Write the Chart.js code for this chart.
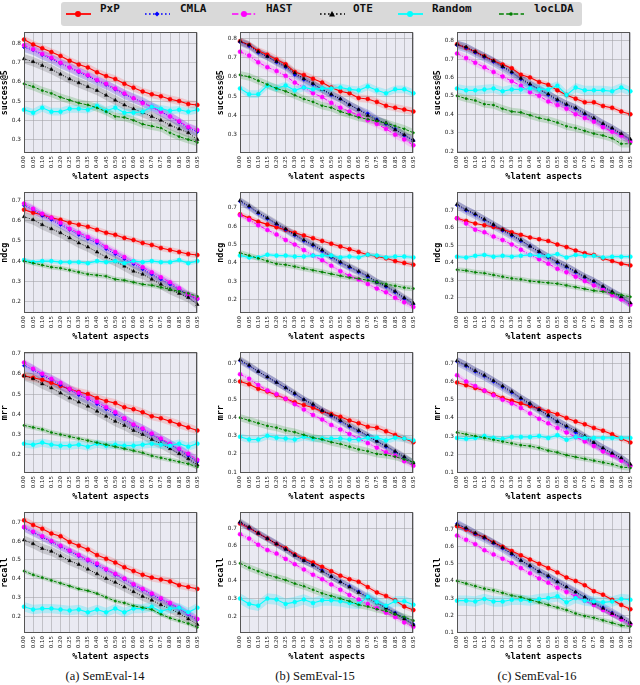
<!DOCTYPE html>
<html><head><meta charset="utf-8">
<script src="https://cdn.jsdelivr.net/npm/chart.js@4"></script>
<style>
body{margin:0;width:640px;height:685px;background:#fff;position:relative;overflow:hidden;font-family:'DejaVu Sans',sans-serif}
canvas{position:absolute}
#legend{position:absolute;left:61px;top:2px;width:521px;height:24px;background:#d9d9d9;border-radius:3px}
.sw{position:absolute;top:7px}
.lt{position:absolute;top:0;height:24px;line-height:24px;font:bold 11px 'DejaVu Sans Mono',monospace;color:#111}
.cap{position:absolute;top:669px;font:12.5px 'Liberation Serif',serif;transform:translateX(-50%);white-space:nowrap;color:#111}
</style></head><body>
<div id="legend"></div>
<div class="cap" style="left:105px">(a) SemEval-14</div>
<div class="cap" style="left:315px">(b) SemEval-15</div>
<div class="cap" style="left:537px">(c) SemEval-16</div>
<script>
const seriesNames = ['PxP','CMLA','HAST','OTE','Random','locLDA'];
const xLabels = ['0.00','0.05','0.10','0.15','0.20','0.25','0.30','0.35','0.40','0.45','0.50','0.55','0.60','0.65','0.70','0.75','0.80','0.85','0.90','0.95'];

// success@5
const succ14_PxP = [0.82,0.795,0.775,0.755,0.735,0.71,0.69,0.675,0.65,0.63,0.615,0.59,0.57,0.55,0.535,0.525,0.51,0.50,0.485,0.48];
const succ14_CMLA = [0.78,0.765,0.74,0.72,0.695,0.675,0.65,0.63,0.605,0.585,0.56,0.535,0.515,0.495,0.47,0.445,0.42,0.39,0.36,0.34];
const succ14_HAST = [0.79,0.77,0.745,0.725,0.70,0.675,0.655,0.635,0.61,0.59,0.565,0.54,0.515,0.49,0.47,0.445,0.42,0.395,0.365,0.35];
const succ14_OTE = [0.72,0.705,0.685,0.665,0.64,0.615,0.595,0.575,0.555,0.53,0.505,0.48,0.46,0.44,0.42,0.40,0.375,0.355,0.335,0.30];
const succ14_Random = [0.455,0.44,0.465,0.445,0.445,0.46,0.46,0.455,0.475,0.45,0.465,0.44,0.44,0.445,0.47,0.46,0.45,0.455,0.445,0.455];
const succ14_locLDA = [0.59,0.575,0.555,0.54,0.52,0.505,0.49,0.48,0.465,0.445,0.42,0.415,0.40,0.38,0.37,0.36,0.335,0.315,0.30,0.285];

const succ15_PxP = [0.785,0.765,0.735,0.715,0.69,0.665,0.625,0.61,0.59,0.57,0.545,0.525,0.515,0.49,0.485,0.47,0.45,0.44,0.43,0.42];
const succ15_CMLA = [0.78,0.76,0.725,0.705,0.675,0.65,0.61,0.585,0.56,0.535,0.505,0.485,0.455,0.43,0.41,0.38,0.355,0.33,0.295,0.27];
const succ15_HAST = [0.73,0.71,0.675,0.65,0.63,0.605,0.57,0.545,0.515,0.495,0.465,0.44,0.42,0.40,0.375,0.355,0.33,0.30,0.275,0.245];
const succ15_OTE = [0.785,0.765,0.73,0.705,0.68,0.655,0.62,0.59,0.565,0.535,0.51,0.485,0.455,0.43,0.40,0.375,0.36,0.325,0.30,0.27];
const succ15_Random = [0.54,0.51,0.51,0.555,0.54,0.555,0.53,0.545,0.535,0.54,0.54,0.545,0.535,0.53,0.55,0.53,0.515,0.535,0.535,0.515];
const succ15_locLDA = [0.61,0.60,0.58,0.56,0.54,0.525,0.505,0.485,0.47,0.45,0.44,0.42,0.405,0.39,0.38,0.37,0.36,0.345,0.33,0.31];

const succ16_PxP = [0.78,0.76,0.74,0.715,0.69,0.67,0.65,0.615,0.60,0.575,0.56,0.53,0.505,0.485,0.465,0.465,0.445,0.435,0.415,0.40];
const succ16_CMLA = [0.775,0.76,0.735,0.71,0.685,0.655,0.625,0.59,0.56,0.535,0.505,0.475,0.45,0.43,0.40,0.375,0.345,0.32,0.29,0.26];
const succ16_HAST = [0.73,0.705,0.68,0.655,0.63,0.605,0.58,0.555,0.52,0.50,0.47,0.45,0.43,0.40,0.38,0.36,0.33,0.305,0.285,0.25];
const succ16_OTE = [0.78,0.765,0.74,0.715,0.69,0.66,0.63,0.595,0.565,0.535,0.51,0.48,0.455,0.435,0.405,0.38,0.35,0.325,0.295,0.265];
const succ16_Random = [0.54,0.53,0.53,0.535,0.54,0.525,0.535,0.535,0.54,0.535,0.535,0.555,0.505,0.545,0.53,0.53,0.53,0.525,0.545,0.525];
const succ16_locLDA = [0.50,0.485,0.475,0.455,0.45,0.43,0.415,0.41,0.395,0.38,0.37,0.355,0.335,0.325,0.31,0.295,0.285,0.27,0.24,0.24];

// ndcg
const ndcg14_PxP = [0.655,0.64,0.63,0.615,0.605,0.59,0.58,0.57,0.555,0.54,0.53,0.515,0.505,0.49,0.48,0.465,0.455,0.445,0.435,0.43];
const ndcg14_CMLA = [0.675,0.655,0.625,0.605,0.58,0.555,0.53,0.51,0.49,0.46,0.435,0.41,0.385,0.36,0.335,0.31,0.285,0.26,0.23,0.21];
const ndcg14_HAST = [0.685,0.66,0.635,0.615,0.59,0.56,0.54,0.52,0.50,0.47,0.445,0.42,0.395,0.37,0.345,0.32,0.295,0.265,0.235,0.215];
const ndcg14_OTE = [0.62,0.605,0.58,0.56,0.54,0.515,0.49,0.47,0.445,0.42,0.40,0.375,0.35,0.335,0.31,0.285,0.26,0.24,0.22,0.185];
const ndcg14_Random = [0.405,0.395,0.40,0.40,0.395,0.395,0.395,0.39,0.40,0.395,0.40,0.39,0.40,0.395,0.40,0.395,0.395,0.405,0.39,0.40];
const ndcg14_locLDA = [0.40,0.39,0.38,0.37,0.365,0.355,0.345,0.335,0.33,0.325,0.31,0.305,0.295,0.285,0.28,0.27,0.26,0.25,0.24,0.225];

const ndcg15_PxP = [0.665,0.645,0.625,0.61,0.595,0.58,0.565,0.55,0.535,0.52,0.505,0.49,0.475,0.46,0.445,0.435,0.425,0.41,0.40,0.39];
const ndcg15_CMLA = [0.735,0.705,0.67,0.64,0.61,0.58,0.55,0.52,0.495,0.465,0.43,0.40,0.375,0.35,0.325,0.295,0.27,0.24,0.205,0.175];
const ndcg15_HAST = [0.66,0.635,0.605,0.58,0.555,0.525,0.50,0.47,0.44,0.415,0.385,0.355,0.33,0.31,0.285,0.26,0.24,0.21,0.185,0.16];
const ndcg15_OTE = [0.74,0.71,0.675,0.645,0.615,0.585,0.555,0.525,0.50,0.47,0.435,0.405,0.38,0.355,0.33,0.295,0.275,0.245,0.21,0.18];
const ndcg15_Random = [0.44,0.43,0.43,0.445,0.44,0.44,0.435,0.435,0.44,0.44,0.44,0.43,0.435,0.43,0.445,0.44,0.43,0.435,0.435,0.43];
const ndcg15_locLDA = [0.455,0.44,0.425,0.41,0.395,0.39,0.38,0.37,0.36,0.35,0.34,0.33,0.32,0.315,0.305,0.295,0.285,0.275,0.265,0.26];

const ndcg16_PxP = [0.655,0.64,0.625,0.615,0.605,0.59,0.575,0.56,0.545,0.535,0.525,0.505,0.49,0.47,0.455,0.445,0.425,0.41,0.395,0.385];
const ndcg16_CMLA = [0.73,0.70,0.675,0.645,0.615,0.585,0.555,0.525,0.495,0.46,0.43,0.40,0.375,0.345,0.315,0.29,0.26,0.23,0.20,0.165];
const ndcg16_HAST = [0.655,0.625,0.59,0.575,0.55,0.53,0.505,0.475,0.445,0.42,0.395,0.365,0.345,0.32,0.295,0.27,0.245,0.215,0.19,0.16];
const ndcg16_OTE = [0.735,0.705,0.68,0.65,0.62,0.59,0.56,0.53,0.495,0.465,0.435,0.405,0.38,0.35,0.32,0.295,0.265,0.235,0.205,0.17];
const ndcg16_Random = [0.435,0.43,0.44,0.445,0.435,0.44,0.435,0.44,0.445,0.44,0.44,0.45,0.43,0.445,0.44,0.44,0.43,0.435,0.435,0.435];
const ndcg16_locLDA = [0.36,0.355,0.345,0.34,0.33,0.32,0.31,0.305,0.295,0.29,0.285,0.28,0.27,0.26,0.25,0.24,0.235,0.225,0.215,0.205];

// mrr
const mrr14_PxP = [0.59,0.58,0.57,0.555,0.54,0.525,0.51,0.50,0.48,0.465,0.455,0.435,0.425,0.41,0.39,0.38,0.365,0.35,0.335,0.32];
const mrr14_CMLA = [0.64,0.62,0.59,0.57,0.545,0.52,0.495,0.475,0.45,0.425,0.40,0.375,0.345,0.325,0.30,0.275,0.25,0.225,0.195,0.165];
const mrr14_HAST = [0.655,0.625,0.60,0.575,0.555,0.525,0.505,0.48,0.46,0.435,0.41,0.38,0.35,0.33,0.305,0.28,0.255,0.23,0.205,0.175];
const mrr14_OTE = [0.59,0.575,0.55,0.53,0.505,0.48,0.46,0.44,0.415,0.39,0.365,0.345,0.32,0.30,0.275,0.255,0.23,0.205,0.18,0.15];
const mrr14_Random = [0.255,0.25,0.26,0.25,0.245,0.245,0.25,0.24,0.255,0.245,0.25,0.245,0.245,0.25,0.255,0.25,0.245,0.255,0.24,0.255];
const mrr14_locLDA = [0.345,0.335,0.325,0.31,0.30,0.29,0.28,0.27,0.26,0.25,0.24,0.23,0.22,0.21,0.195,0.185,0.175,0.165,0.155,0.14];

const mrr15_PxP = [0.60,0.585,0.56,0.545,0.525,0.505,0.485,0.47,0.455,0.435,0.42,0.405,0.385,0.37,0.35,0.345,0.325,0.305,0.285,0.265];
const mrr15_CMLA = [0.715,0.685,0.655,0.625,0.595,0.565,0.53,0.50,0.47,0.44,0.41,0.38,0.35,0.325,0.30,0.27,0.24,0.21,0.18,0.15];
const mrr15_HAST = [0.64,0.615,0.58,0.55,0.53,0.505,0.475,0.445,0.415,0.39,0.36,0.335,0.31,0.285,0.26,0.235,0.21,0.19,0.16,0.135];
const mrr15_OTE = [0.72,0.69,0.655,0.625,0.595,0.565,0.535,0.50,0.475,0.44,0.415,0.385,0.355,0.33,0.30,0.27,0.245,0.215,0.185,0.15];
const mrr15_Random = [0.295,0.28,0.28,0.30,0.29,0.285,0.28,0.295,0.285,0.285,0.285,0.285,0.28,0.28,0.29,0.29,0.275,0.29,0.285,0.275];
const mrr15_locLDA = [0.40,0.385,0.37,0.355,0.345,0.33,0.32,0.305,0.29,0.28,0.265,0.255,0.24,0.225,0.215,0.20,0.195,0.185,0.17,0.155];

const mrr16_PxP = [0.595,0.58,0.565,0.55,0.53,0.51,0.495,0.48,0.465,0.45,0.435,0.42,0.40,0.38,0.365,0.345,0.33,0.31,0.285,0.265];
const mrr16_CMLA = [0.71,0.685,0.655,0.63,0.60,0.57,0.54,0.505,0.475,0.445,0.41,0.38,0.35,0.32,0.29,0.26,0.23,0.205,0.175,0.14];
const mrr16_HAST = [0.635,0.60,0.575,0.55,0.525,0.50,0.48,0.455,0.425,0.395,0.37,0.345,0.32,0.295,0.27,0.245,0.215,0.195,0.165,0.135];
const mrr16_OTE = [0.715,0.69,0.66,0.635,0.605,0.575,0.545,0.51,0.48,0.445,0.415,0.38,0.355,0.33,0.30,0.265,0.235,0.205,0.18,0.145];
const mrr16_Random = [0.29,0.285,0.29,0.30,0.29,0.285,0.295,0.295,0.295,0.30,0.29,0.305,0.28,0.295,0.29,0.29,0.29,0.29,0.29,0.29];
const mrr16_locLDA = [0.32,0.31,0.30,0.29,0.28,0.27,0.26,0.25,0.245,0.235,0.22,0.21,0.195,0.185,0.175,0.165,0.155,0.145,0.13,0.125];

// recall
const rec14_PxP = [0.71,0.685,0.665,0.64,0.625,0.595,0.575,0.555,0.525,0.505,0.485,0.46,0.44,0.42,0.405,0.395,0.385,0.365,0.355,0.345];
const rec14_CMLA = [0.67,0.645,0.62,0.595,0.57,0.545,0.52,0.495,0.47,0.445,0.42,0.395,0.365,0.34,0.315,0.29,0.265,0.24,0.21,0.18];
const rec14_HAST = [0.675,0.65,0.625,0.60,0.575,0.55,0.525,0.50,0.48,0.45,0.425,0.40,0.37,0.345,0.32,0.295,0.27,0.245,0.215,0.185];
const rec14_OTE = [0.605,0.585,0.56,0.545,0.52,0.495,0.475,0.45,0.425,0.40,0.38,0.355,0.33,0.305,0.285,0.26,0.24,0.215,0.185,0.155];
const rec14_Random = [0.25,0.235,0.24,0.24,0.235,0.23,0.235,0.22,0.235,0.22,0.24,0.22,0.24,0.24,0.25,0.225,0.24,0.245,0.22,0.245];
const rec14_locLDA = [0.44,0.42,0.405,0.39,0.375,0.36,0.345,0.335,0.32,0.30,0.28,0.27,0.255,0.245,0.235,0.21,0.19,0.175,0.16,0.14];

const rec15_PxP = [0.725,0.70,0.67,0.64,0.61,0.585,0.55,0.525,0.505,0.48,0.455,0.43,0.41,0.395,0.365,0.335,0.315,0.29,0.255,0.235];
const rec15_CMLA = [0.73,0.70,0.67,0.64,0.61,0.58,0.545,0.515,0.49,0.46,0.425,0.395,0.37,0.34,0.31,0.28,0.25,0.22,0.19,0.155];
const rec15_HAST = [0.665,0.64,0.605,0.575,0.555,0.525,0.495,0.465,0.435,0.41,0.38,0.35,0.32,0.295,0.27,0.245,0.22,0.195,0.165,0.14];
const rec15_OTE = [0.735,0.705,0.67,0.64,0.61,0.58,0.545,0.515,0.49,0.455,0.425,0.395,0.365,0.335,0.305,0.275,0.245,0.215,0.185,0.15];
const rec15_Random = [0.30,0.27,0.26,0.30,0.295,0.27,0.28,0.295,0.275,0.29,0.29,0.285,0.275,0.27,0.31,0.28,0.26,0.285,0.285,0.265];
const rec15_locLDA = [0.50,0.475,0.455,0.435,0.42,0.405,0.385,0.37,0.35,0.33,0.315,0.30,0.285,0.265,0.255,0.24,0.23,0.21,0.195,0.175];

const rec16_PxP = [0.72,0.70,0.675,0.655,0.625,0.60,0.575,0.55,0.525,0.50,0.475,0.45,0.42,0.40,0.375,0.34,0.32,0.29,0.26,0.235];
const rec16_CMLA = [0.735,0.705,0.675,0.65,0.62,0.59,0.555,0.52,0.485,0.455,0.425,0.395,0.365,0.335,0.305,0.275,0.245,0.215,0.185,0.15];
const rec16_HAST = [0.665,0.64,0.615,0.58,0.555,0.53,0.505,0.475,0.445,0.415,0.39,0.36,0.335,0.31,0.285,0.26,0.23,0.205,0.175,0.145];
const rec16_OTE = [0.73,0.71,0.68,0.655,0.625,0.595,0.56,0.52,0.49,0.455,0.43,0.395,0.365,0.335,0.305,0.27,0.24,0.21,0.185,0.155];
const rec16_Random = [0.285,0.285,0.28,0.295,0.28,0.28,0.29,0.29,0.285,0.295,0.30,0.31,0.275,0.30,0.285,0.28,0.275,0.28,0.295,0.29];
const rec16_locLDA = [0.40,0.385,0.37,0.355,0.345,0.33,0.315,0.305,0.29,0.275,0.26,0.245,0.23,0.21,0.195,0.185,0.17,0.155,0.14,0.135];

// half-widths of the shaded bands, order: PxP, CMLA, HAST, OTE, Random, locLDA
const band_succ14 = [0.02,0.025,0.02,0.025,0.02,0.02];
const band_succ15 = [0.02,0.02,0.02,0.02,0.02,0.02];
const band_succ16 = [0.015,0.025,0.02,0.02,0.025,0.02];
const band_ndcg14 = [0.015,0.02,0.02,0.025,0.012,0.012];
const band_ndcg15 = [0.015,0.02,0.015,0.02,0.012,0.015];
const band_ndcg16 = [0.012,0.025,0.015,0.02,0.012,0.015];
const band_mrr14 = [0.02,0.025,0.02,0.025,0.02,0.012];
const band_mrr15 = [0.02,0.02,0.015,0.02,0.02,0.02];
const band_mrr16 = [0.015,0.025,0.015,0.02,0.015,0.015];
const band_rec14 = [0.02,0.02,0.02,0.025,0.025,0.012];
const band_rec15 = [0.015,0.02,0.015,0.02,0.03,0.02];
const band_rec16 = [0.015,0.025,0.015,0.02,0.03,0.015];

// y tick labels
const yt_3_8 = [0.3,0.4,0.5,0.6,0.7,0.8];
const yt_2_8 = [0.2,0.3,0.4,0.5,0.6,0.7,0.8];
const yt_2_7 = [0.2,0.3,0.4,0.5,0.6,0.7];
const yt_1_7 = [0.1,0.2,0.3,0.4,0.5,0.6,0.7];

const styles = [
  {color:'#ff0000', band:'rgba(255,60,60,0.2)', lw:1.1, dash:[], ps:'circle', pr:2},
  {color:'#0000ff', band:'rgba(70,70,220,0.28)', lw:0.9, dash:[1,1.5], ps:'rectRot', pr:1.7},
  {color:'#ff00ff', band:'rgba(255,60,255,0.2)', lw:1, dash:[4,1.5,1,1.5], ps:'circle', pr:2},
  {color:'#000000', band:'rgba(0,0,0,0.15)', lw:0.9, dash:[1,1.5], ps:'triangle', pr:2},
  {color:'#00ffff', band:'rgba(0,230,255,0.24)', lw:1.1, dash:[], ps:'circle', pr:2},
  {color:'#008000', band:'rgba(40,150,40,0.22)', lw:1, dash:[3,1.5], ps:'circle', pr:1.1}
];

const panels = [
  {col:0,row:0,title:'success@5',series:[succ14_PxP,succ14_CMLA,succ14_HAST,succ14_OTE,succ14_Random,succ14_locLDA],band:band_succ14,min:0.23,max:0.857,ticks:yt_3_8},
  {col:1,row:0,title:'success@5',series:[succ15_PxP,succ15_CMLA,succ15_HAST,succ15_OTE,succ15_Random,succ15_locLDA],band:band_succ15,min:0.205,max:0.83,ticks:yt_3_8},
  {col:2,row:0,title:'success@5',series:[succ16_PxP,succ16_CMLA,succ16_HAST,succ16_OTE,succ16_Random,succ16_locLDA],band:band_succ16,min:0.19,max:0.844,ticks:yt_2_8},
  {col:0,row:1,title:'ndcg',series:[ndcg14_PxP,ndcg14_CMLA,ndcg14_HAST,ndcg14_OTE,ndcg14_Random,ndcg14_locLDA],band:band_ndcg14,min:0.143,max:0.74,ticks:yt_2_7},
  {col:1,row:1,title:'ndcg',series:[ndcg15_PxP,ndcg15_CMLA,ndcg15_HAST,ndcg15_OTE,ndcg15_Random,ndcg15_locLDA],band:band_ndcg15,min:0.127,max:0.784,ticks:yt_2_7},
  {col:2,row:1,title:'ndcg',series:[ndcg16_PxP,ndcg16_CMLA,ndcg16_HAST,ndcg16_OTE,ndcg16_Random,ndcg16_locLDA],band:band_ndcg16,min:0.112,max:0.803,ticks:yt_2_7},
  {col:0,row:2,title:'mrr',series:[mrr14_PxP,mrr14_CMLA,mrr14_HAST,mrr14_OTE,mrr14_Random,mrr14_locLDA],band:band_mrr14,min:0.11,max:0.705,ticks:yt_2_7},
  {col:1,row:2,title:'mrr',series:[mrr15_PxP,mrr15_CMLA,mrr15_HAST,mrr15_OTE,mrr15_Random,mrr15_locLDA],band:band_mrr15,min:0.095,max:0.76,ticks:yt_1_7},
  {col:2,row:2,title:'mrr',series:[mrr16_PxP,mrr16_CMLA,mrr16_HAST,mrr16_OTE,mrr16_Random,mrr16_locLDA],band:band_mrr16,min:0.097,max:0.76,ticks:yt_1_7},
  {col:0,row:3,title:'recall',series:[rec14_PxP,rec14_CMLA,rec14_HAST,rec14_OTE,rec14_Random,rec14_locLDA],band:band_rec14,min:0.11,max:0.752,ticks:yt_2_7},
  {col:1,row:3,title:'recall',series:[rec15_PxP,rec15_CMLA,rec15_HAST,rec15_OTE,rec15_Random,rec15_locLDA],band:band_rec15,min:0.105,max:0.788,ticks:yt_2_7},
  {col:2,row:3,title:'recall',series:[rec16_PxP,rec16_CMLA,rec16_HAST,rec16_OTE,rec16_Random,rec16_locLDA],band:band_rec16,min:0.096,max:0.80,ticks:yt_1_7}
];

const colLeft = [0,216,433];
const rowTop = [29,189,349,509];
const gridColor = 'rgba(160,160,165,0.7)';

const framePlugin = {
  id:'frame',
  beforeDraw(c){const {ctx,chartArea:a}=c;ctx.save();ctx.fillStyle='#eaeaf2';ctx.fillRect(a.left,a.top,a.width,a.height);ctx.restore();},
  afterDraw(c){const {ctx,chartArea:a}=c;ctx.save();ctx.strokeStyle='#555';ctx.lineWidth=1;ctx.strokeRect(Math.round(a.left)+0.5,Math.round(a.top)+0.5,Math.round(a.width)-1,Math.round(a.height)-1);ctx.restore();}
};

panels.forEach(p=>{
  const cv=document.createElement('canvas');
  cv.width=207; cv.height=156;
  cv.style.left=colLeft[p.col]+'px'; cv.style.top=(rowTop[p.row]-3)+'px';
  document.body.appendChild(cv);
  const datasets=[];
  p.series.forEach((vals,si)=>{
    const st=styles[si];
    datasets.push({label:seriesNames[si],data:vals,borderColor:st.color,backgroundColor:st.color,borderWidth:st.lw,borderDash:st.dash,
      pointStyle:st.ps,pointRadius:st.pr,pointBorderWidth:0.5,pointBackgroundColor:st.color,pointBorderColor:st.color,tension:0,fill:false,order:20-si});
  });
  p.series.forEach((vals,si)=>{
    const st=styles[si], s=p.band[si];
    datasets.push({data:vals.map(v=>v-s),borderColor:'rgba(0,0,0,0)',borderWidth:0,pointRadius:0,fill:false,order:100-si});
    datasets.push({data:vals.map(v=>v+s),borderColor:'rgba(0,0,0,0)',borderWidth:0,pointRadius:0,fill:'-1',backgroundColor:st.band,order:100-si});
  });
  new Chart(cv,{
    type:'line',
    data:{labels:xLabels,datasets},
    plugins:[framePlugin],
    options:{
      responsive:false,animation:false,events:[],devicePixelRatio:1,
      layout:{padding:{top:3,right:3,left:0,bottom:0}},
      plugins:{legend:{display:false},tooltip:{enabled:false}},
      scales:{
        x:{type:'category',offset:false,
          grid:{color:gridColor,lineWidth:0.8,drawTicks:false},border:{display:false},
          ticks:{autoSkip:false,minRotation:90,maxRotation:90,padding:3,color:'#222',font:{family:'DejaVu Sans',size:5.5}},
          title:{display:true,text:'%latent aspects',color:'#000',padding:0,font:{family:'DejaVu Sans Mono',weight:'bold',size:8.5}},
          afterFit(s){s.height=29;}},
        y:{type:'linear',min:p.min,max:p.max,
          afterBuildTicks(s){s.ticks=p.ticks.map(v=>({value:v}));},
          grid:{color:gridColor,lineWidth:0.8,drawTicks:false},border:{display:false},
          ticks:{padding:3,color:'#222',font:{family:'DejaVu Sans',size:5.8},callback:v=>Number(v).toFixed(1)},
          title:{display:true,text:p.title,color:'#000',padding:0,font:{family:'DejaVu Sans Mono',weight:'bold',size:8.3}},
          afterFit(s){s.width=24;}}
      }
    }
  });
});

// legend
const legend=document.getElementById('legend');
const swLeft=[5,84,171,259,337,438];
const txLeft=[39,119,205,292,371,473];
seriesNames.forEach((n,i)=>{
  const st=styles[i];
  const dash=st.dash.length?st.dash.map(d=>d*1.6).join(','):'none';
  let marker='';
  if(st.ps==='triangle') marker=`<polygon points="12,2 15,7.5 9,7.5" fill="${st.color}"/>`;
  else if(st.ps==='rectRot') marker=`<polygon points="12,2.5 14.5,5 12,7.5 9.5,5" fill="${st.color}"/>`;
  else marker=`<circle cx="12" cy="5" r="${st.pr>1.5?3:1.8}" fill="${st.color}"/>`;
  const w=document.createElement('div');
  w.innerHTML=`<svg class="sw" style="left:${swLeft[i]}px" width="25" height="10"><line x1="0" y1="5" x2="25" y2="5" stroke="${st.color}" stroke-width="${st.lw*1.6}" stroke-dasharray="${dash}"/>${marker}</svg><span class="lt" style="left:${txLeft[i]}px">${n}</span>`;
  while(w.firstChild) legend.appendChild(w.firstChild);
});
</script>
</body></html>
